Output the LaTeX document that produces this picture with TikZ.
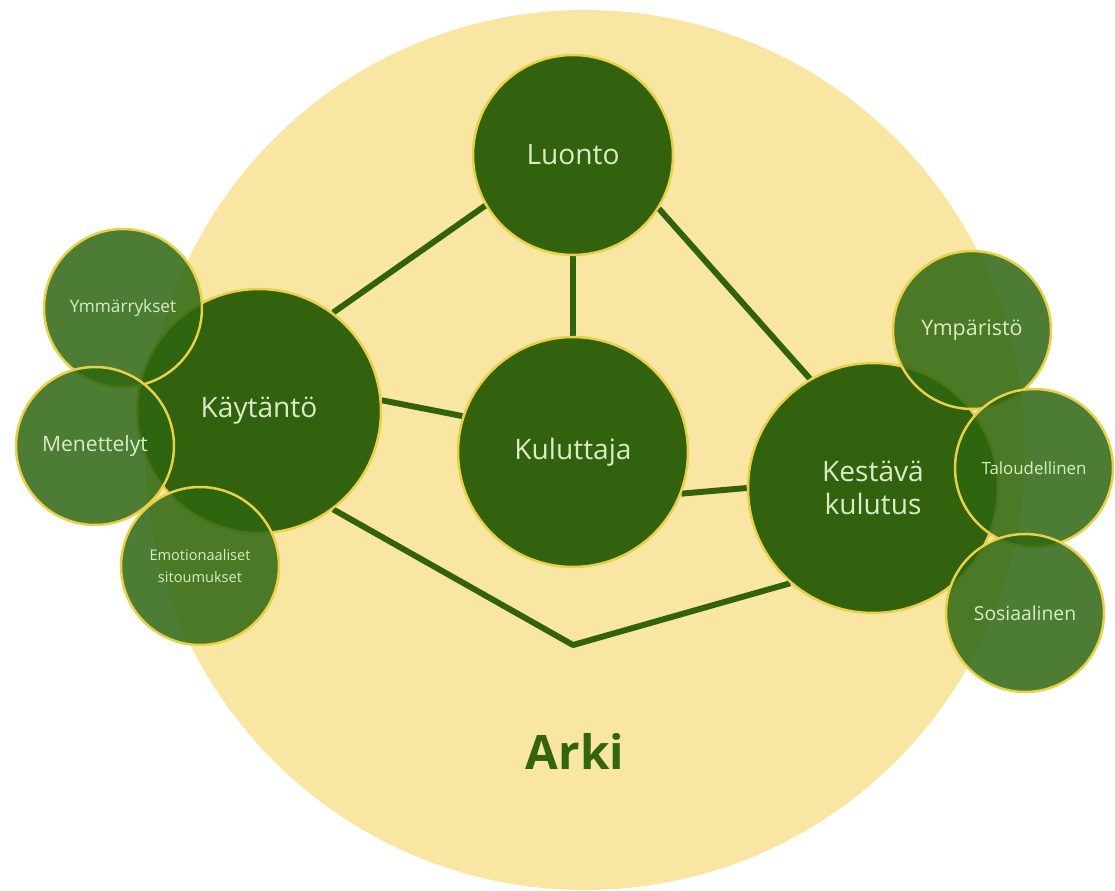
\documentclass[tikz,border=0pt]{standalone}
\usepackage{fontspec}
\setmainfont{Open Sans}
\definecolor{bgyellow}{RGB}{248,230,162}
\definecolor{dkgreen}{RGB}{50,98,14}
\definecolor{ringyellow}{RGB}{232,208,72}
\definecolor{txtgreen}{RGB}{218,236,198}
\definecolor{arkigreen}{RGB}{52,100,16}
\definecolor{smallgreen}{RGB}{46,102,16}
\pgfdeclarelayer{background}
\pgfsetlayers{background,main}
\tikzset{
  mainnode/.style={circle, fill=dkgreen, draw=ringyellow, line width=1.4pt,
    text=txtgreen, inner sep=0pt, align=center, font=\fontsize{16}{19}\selectfont},
  subnode/.style={circle, fill=smallgreen, fill opacity=0.85, text opacity=1,
    draw=ringyellow, draw opacity=1, line width=1.4pt, text=txtgreen,
    inner sep=0pt, align=center, minimum size=3.16cm},
  link/.style={draw=dkgreen, line width=3.4pt}
}
\begin{document}
\begin{tikzpicture}[x=0.02cm,y=-0.02cm]
\useasboundingbox (0,0) rectangle (1115,891);
% main nodes
\node[mainnode, minimum size=4cm] (lu) at (573,155) {Luonto};
\node[mainnode, minimum size=4.88cm] (ka) at (259,411) {Käytäntö};
\node[mainnode, minimum size=4.6cm] (kul) at (573,452) {Kuluttaja};
\node[mainnode, minimum size=5cm] (kes) at (873,488) {Kestävä\\kulutus};
\coordinate (bend) at (573,645);
% background circle and connectors
\begin{pgfonlayer}{background}
\fill[bgyellow] (585,450) circle[radius=440];
\path[link] (lu.210) -- (ka.53);
\path[link] (lu.south) -- (kul.north);
\path[link] (lu.-32) -- (kes.120);
\path[link] (ka.5) -- (kul.162);
\path[link] (kul.-21) -- (kes.180);
\path[link, line join=round] (ka.-53) -- (bend) -- (kes.229);
\end{pgfonlayer}
% sub nodes left
\node[subnode, font=\fontsize{9.8}{12}\selectfont] (ymm) at (123,308) {Ymmärrykset};
\node[subnode, font=\fontsize{12}{14}\selectfont] (men) at (95,446) {Menettelyt};
\node[subnode, font=\fontsize{8.3}{12.5}\selectfont] (emo) at (200,566) {Emotionaaliset\\sitoumukset};
% sub nodes right
\node[subnode, font=\fontsize{12.2}{14}\selectfont] (ymp) at (972,330) {Ympäristö};
\node[subnode, font=\fontsize{9.6}{12}\selectfont] (tal) at (1034,468) {Taloudellinen};
\node[subnode, font=\fontsize{11}{13}\selectfont] (sos) at (1025,613) {Sosiaalinen};
% label
\node[text=arkigreen, font=\fontsize{27}{32}\selectfont\bfseries] (arki) at (575,751) {Arki};
\end{tikzpicture}
\end{document}
